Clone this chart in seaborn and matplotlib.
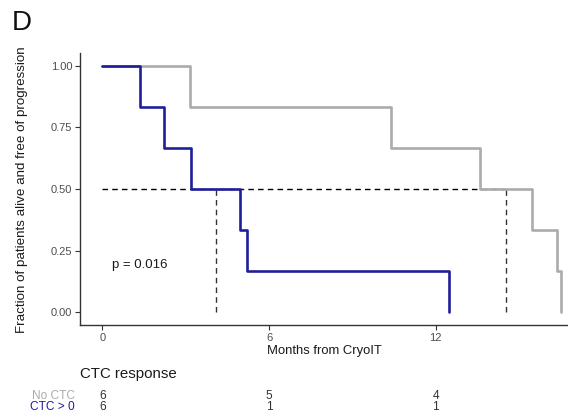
import matplotlib
matplotlib.use("Agg")
import matplotlib.pyplot as plt
import matplotlib.transforms as mtransforms
import seaborn as sns
import pandas as pd

# Kaplan-Meier step curves (months, survival fraction)
no_ctc_times = [0, 3.15, 10.38, 13.59, 15.45, 16.35, 16.49]
no_ctc_surv = [1.0, 0.833, 0.667, 0.5, 0.333, 0.167, 0.0]
ctc_times = [0, 1.35, 2.21, 3.19, 4.95, 5.21, 12.48]
ctc_surv = [1.0, 0.833, 0.667, 0.5, 0.333, 0.167, 0.0]

# Median survival per group
median_ctc = 4.07
median_no_ctc = 14.52

groups = ["No CTC", "CTC > 0"]
colors = {"No CTC": "#ababab", "CTC > 0": "#1f1f99"}

# Numbers at risk
risk_times = [0, 6, 12]
no_ctc_risk = [6, 5, 4]
ctc_risk = [6, 1, 1]

x_ticks = [0, 6, 12]
y_ticks = [0.0, 0.25, 0.5, 0.75, 1.0]
p_text = "p = 0.016"

df = pd.concat([
    pd.DataFrame({"time": no_ctc_times, "surv": no_ctc_surv, "group": groups[0]}),
    pd.DataFrame({"time": ctc_times, "surv": ctc_surv, "group": groups[1]}),
])

sns.set_theme(style="white")
plt.rcParams["font.family"] = ["Liberation Sans", "DejaVu Sans"]

W, H = 568, 419
fig = plt.figure(figsize=(W / 100, H / 100), dpi=100)
ax = fig.add_axes([80 / W, 1 - 325 / H, 1 - 80 / W, (325 - 53) / H])

# median guide lines
ax.plot([0, median_no_ctc], [0.5, 0.5], color="black", lw=1.0, ls=(0, (4, 3)))
for m in (median_ctc, median_no_ctc):
    ax.plot([m, m], [0, 0.5], color="#333333", lw=1.0, ls=(0, (4, 3)))

sns.lineplot(data=df, x="time", y="surv", hue="group", palette=colors,
             drawstyle="steps-post", linewidth=1.9, legend=False, ax=ax,
             estimator=None, sort=False)

ax.set_xlim(-0.81, 16.76)
ax.set_ylim(-0.052, 1.052)
ax.set_xticks(x_ticks)
ax.set_xticklabels([str(t) for t in x_ticks])
ax.set_yticks(y_ticks)
ax.set_yticklabels([f"{v:.2f}" for v in y_ticks])
for s in ("top", "right"):
    ax.spines[s].set_visible(False)
for s in ("left", "bottom"):
    ax.spines[s].set_color("#333333")
    ax.spines[s].set_linewidth(1.0)
ax.tick_params(axis="both", which="both", length=3.5, width=0.8, color="#333333",
               labelsize=8, labelcolor="#4d4d4d", pad=2, left=True, bottom=True)
ax.set_xlabel("")
ax.set_ylabel("")

ax.text(0.33, 0.19, p_text, fontsize=9.5, color="#1a1a1a", ha="left", va="center")

fig.text(22 / W, 1 - 189.5 / H, "Fraction of patients alive and free of progression",
         rotation=90, ha="center", va="center", fontsize=9.6, color="#1a1a1a")
fig.text(324 / W, 1 - 351 / H, "Months from CryoIT", ha="center", va="center",
         fontsize=9.4, color="#1a1a1a")
fig.text(12 / W, 1 - 23 / H, "D", ha="left", va="center", fontsize=20, color="#111111")

# risk table
fig.text(80 / W, 1 - 374 / H, "CTC response", ha="left", va="center", fontsize=10.8,
         color="#1a1a1a")
trans = mtransforms.blended_transform_factory(ax.transData, fig.transFigure)
rows = [(groups[0], no_ctc_risk, 395.5), (groups[1], ctc_risk, 407.3)]
for name, counts, ypx in rows:
    fig.text(75 / W, 1 - ypx / H, name, ha="right", va="center", fontsize=8.6,
             color=colors[name])
    for t, n in zip(risk_times, counts):
        ax.text(t, 1 - ypx / H, str(n), transform=trans, ha="center", va="center",
                fontsize=8.6, color="#333333", clip_on=False)

fig.savefig("out.png", dpi=100)
